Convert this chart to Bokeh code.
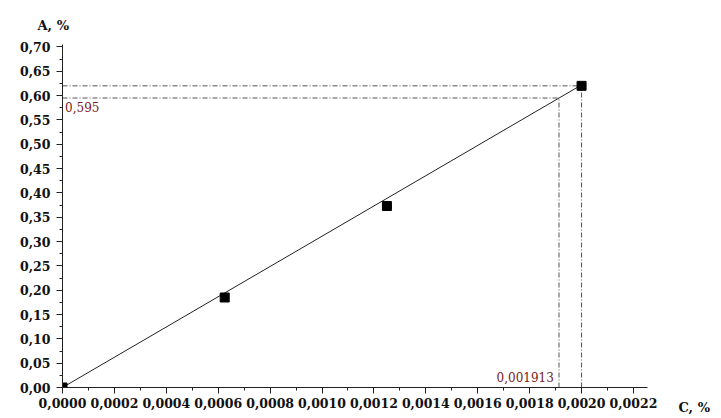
from bokeh.plotting import figure
from bokeh.models import (Range1d, Label, CustomJSTickFormatter, FixedTicker, Title, LinearAxis)
from bokeh.embed import file_html
from bokeh.resources import INLINE

# data
conc = [0.0, 0.000625, 0.00125, 0.002]
absorb = [0.0, 0.185, 0.373, 0.62]
fit_x = [0.0, 0.002]
fit_y = [0.0, 0.622]
found_c = 0.001913
found_a = 0.595
x_ticks = [0.0, 0.0002, 0.0004, 0.0006, 0.0008, 0.0010, 0.0012, 0.0014, 0.0016, 0.0018, 0.0020, 0.0022]
y_ticks = [0.0, 0.05, 0.10, 0.15, 0.20, 0.25, 0.30, 0.35, 0.40, 0.45, 0.50, 0.55, 0.60, 0.65, 0.70]

FONT = "DejaVu Serif"
W, H = 721, 418

p = figure(width=W, height=H, output_backend="svg", toolbar_location=None,
           x_range=Range1d(0, 0.002254), y_range=Range1d(0, 0.705),
           min_border_left=62, min_border_right=74, min_border_top=44, min_border_bottom=31)
p.outline_line_color = None
p.xgrid.grid_line_color = None
p.ygrid.grid_line_color = None
p.background_fill_color = "white"

for ax in (p.xaxis[0], p.yaxis[0]):
    ax.major_label_text_font = FONT
    ax.major_label_text_font_size = "12.5px"
    ax.major_label_text_font_style = "bold"
    ax.major_label_text_color = "#111111"
    ax.axis_line_color = "#222222"
    ax.major_tick_line_color = "#222222"
    ax.minor_tick_line_color = "#222222"
    ax.major_tick_in = 0
    ax.major_tick_out = 6
    ax.minor_tick_in = 0
    ax.minor_tick_out = 3
p.xaxis.major_label_standoff = 4
p.yaxis.major_label_standoff = 6

p.xaxis.ticker = FixedTicker(ticks=x_ticks, minor_ticks=[i * 0.0001 for i in range(23)])
p.yaxis.ticker = FixedTicker(ticks=y_ticks, minor_ticks=[i * 0.025 for i in range(29)])
p.xaxis.formatter = CustomJSTickFormatter(code="return tick.toFixed(4).replace('.', ',');")
p.yaxis.formatter = CustomJSTickFormatter(code="return tick.toFixed(2).replace('.', ',');")

# guide lines (dash-dot)
dash = "5 2 1 2"
gcol = "#555555"
p.line([0, conc[-1]], [absorb[-1], absorb[-1]], line_color=gcol, line_dash=dash, line_width=1)
p.line([conc[-1], conc[-1]], [0, absorb[-1]], line_color=gcol, line_dash=dash, line_width=1)
p.line([0, found_c], [found_a, found_a], line_color=gcol, line_dash=dash, line_width=1)
p.line([found_c, found_c], [0, found_a], line_color=gcol, line_dash=dash, line_width=1)

# calibration line
p.line(fit_x, fit_y, line_color="#222222", line_width=1)
p.scatter(conc, absorb, marker="square", size=9, fill_color="black", line_color="black")

red = "#7a1a1a"
p.add_layout(Label(x=0.00001, y=found_a - 0.008, text="0,595", text_font=FONT,
                   text_font_size="12px", text_color=red, text_baseline="top"))
p.add_layout(Label(x=found_c - 0.00002, y=0.012, text="0,001913", text_font=FONT,
                   text_font_size="12px", text_color=red, text_align="right", text_baseline="bottom"))

# "A, %" as a title above the frame, shifted left of the axis
t = Title(text="A, %", align="left", offset=-25, standoff=23, text_font=FONT,
          text_font_style="bold", text_font_size="13px", text_color="#111111")
p.add_layout(t, "above")

# "C, %" as the single (multi-line, bottom line visible) tick label of an invisible right axis
p.extra_y_ranges = {"cl": Range1d(0, 0.705)}
ax2 = LinearAxis(y_range_name="cl", ticker=FixedTicker(ticks=[0.0], minor_ticks=[]),
                 formatter=CustomJSTickFormatter(code="return '\\u00a0\\n\\u00a0\\n\\u00a0\\nC, %';"),
                 axis_line_color=None, major_tick_line_color=None, minor_tick_line_color=None,
                 major_tick_out=0, major_tick_in=0, major_label_standoff=31,
                 major_label_text_font=FONT, major_label_text_font_style="bold",
                 major_label_text_font_size="13px", major_label_text_color="#111111")
p.add_layout(ax2, "right")

open("out.html", "w").write(file_html(p, INLINE))
